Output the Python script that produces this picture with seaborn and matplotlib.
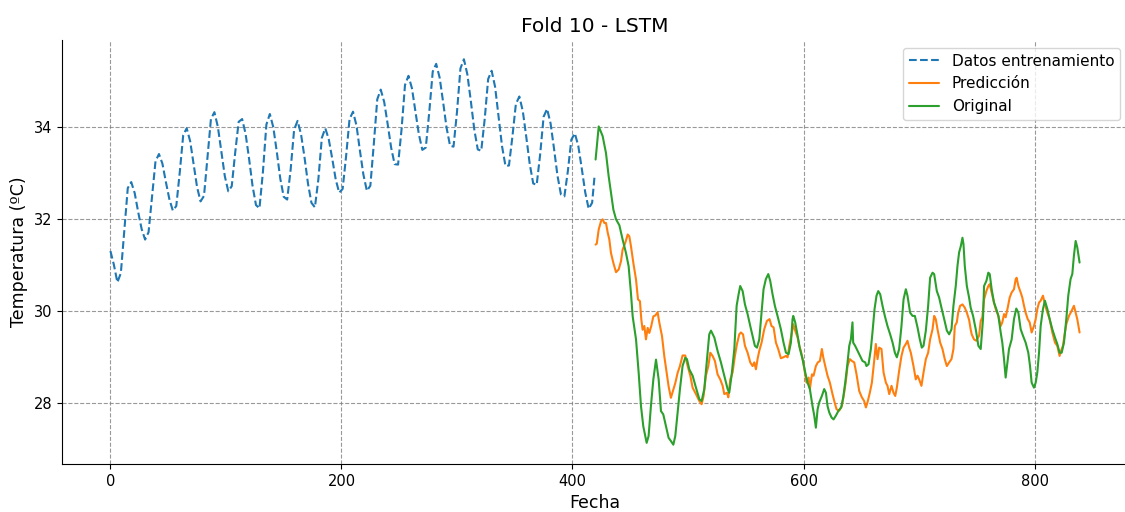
import pandas as pd
import matplotlib
matplotlib.use('Agg')
import matplotlib.pyplot as plt
import seaborn as sns

# Datos de entrenamiento (x cada 3 pasos)
train_x = list(range(0, 420, 3)) + [419]
train_y = [31.30, 31.00, 30.62, 30.82, 31.76, 32.67, 32.80, 32.56, 32.15, 31.78,
           31.55, 31.71, 32.48, 33.25, 33.41, 33.20, 32.80, 32.43, 32.18, 32.28,
           33.01, 33.82, 33.97, 33.69, 33.19, 32.69, 32.38, 32.50, 33.33, 34.17,
           34.32, 34.00, 33.46, 32.93, 32.60, 32.71, 33.44, 34.11, 34.17, 33.85,
           33.31, 32.72, 32.30, 32.23, 33.02, 34.05, 34.28, 33.99, 33.46, 32.88,
           32.48, 32.42, 33.07, 33.94, 34.13, 33.84, 33.34, 32.77, 32.35, 32.25,
           32.86, 33.76, 33.97, 33.73, 33.31, 32.86, 32.57, 32.65, 33.36, 34.17,
           34.33, 34.03, 33.48, 32.96, 32.61, 32.72, 33.63, 34.60, 34.81, 34.54,
           34.06, 33.55, 33.19, 33.18, 33.94, 34.91, 35.11, 34.84, 34.34, 33.84,
           33.50, 33.55, 34.32, 35.20, 35.37, 35.07, 34.54, 33.98, 33.59, 33.57,
           34.32, 35.27, 35.47, 35.14, 34.56, 33.94, 33.51, 33.48, 34.17, 35.04,
           35.22, 34.87, 34.23, 33.58, 33.15, 33.16, 33.79, 34.50, 34.66, 34.34,
           33.78, 33.19, 32.77, 32.74, 33.40, 34.22, 34.39, 34.08, 33.53, 32.94,
           32.53, 32.49, 33.04, 33.72, 33.86, 33.59, 33.10, 32.58, 32.22, 32.35,
           32.90]

# Serie original (test)
orig_x = [420, 422.7, 426.1, 429, 431.3, 433.3, 435.4, 437.7, 440.6, 443.4, 446.3, 448.6,
          450.6, 452.1, 455, 457.3, 459.3, 461.3, 464.2, 465.9, 467.9, 470, 472.3, 474.6,
          476.6, 478.6, 480.9, 483.2, 485.2, 487.3, 489, 491, 493, 495.3, 497.6, 499.1,
          501.1, 504, 506.9, 509.8, 511.8, 514.1, 516.4, 518.4, 519.9, 522.8, 525.6, 528.5,
          531.4, 534.3, 535.7, 537.7, 540.1, 542.1, 543.8, 545.2, 547.3, 549.3, 551.6, 553.9,
          555.9, 557.9, 559.7, 561.7, 563.7, 565.4, 567.4, 569.5, 571.2, 573.2, 575.2, 577.5,
          580.4, 582.7, 584.8, 587.1, 589.1, 590.5, 591.1, 592.8, 594.9, 596.9, 599.2, 601.5,
          603.5, 605.5, 607.8, 609.3, 610.7, 612.2, 613.6, 615.9, 617.9, 619.4, 620.8, 622.3,
          624.3, 626, 628, 630.3, 632.6, 634.4, 636.1, 637.8, 639.6, 641, 642.4, 643,
          644.7, 646.8, 648.8, 651.1, 653.4, 654.5, 656.3, 658.3, 659.7, 661.5, 663.2, 664.7,
          666.4, 668.4, 670.4, 672.7, 675, 677.1, 679.1, 680.8, 682.8, 684.8, 686.6, 688.6,
          690, 692.3, 694.4, 696.4, 698.7, 700.7, 702.4, 703.9, 705.9, 707.9, 709.6, 711.7,
          713.1, 715.4, 717.4, 719.4, 721.8, 724.1, 726.1, 728.1, 729.8, 731.8, 733.3, 734.7,
          736.2, 737.6, 738.5, 739.6, 741.4, 743.4, 744.7, 746.8, 749.1, 751.4, 753.4, 755.4,
          756.3, 758.3, 760, 761.2, 762.9, 764.9, 766.9, 768.7, 770.7, 772.1, 773.6, 775,
          776.5, 777.9, 780.2, 782.2, 784.2, 786, 788, 790, 792.3, 794.6, 796.1, 797.5,
          799.5, 801, 802.4, 803.9, 805.3, 807.3, 809, 811.1, 813.1, 815.4, 817.7, 819.7,
          821.7, 823.5, 825.5, 827.5, 829.2, 831.2, 832.7, 834.1, 835.6, 837, 839]
orig_y = [33.29, 34.01, 33.80, 33.43, 32.93, 32.57, 32.20, 31.99, 31.86, 31.55, 31.26, 30.97,
          30.39, 29.88, 29.38, 28.65, 27.93, 27.49, 27.13, 27.28, 27.93, 28.51, 28.94, 28.51,
          27.82, 27.75, 27.49, 27.24, 27.17, 27.09, 27.28, 27.78, 28.29, 28.80, 28.98, 28.95,
          28.73, 28.59, 28.33, 28.08, 28.04, 28.30, 28.95, 29.49, 29.57, 29.42, 29.13, 28.88,
          28.59, 28.30, 28.22, 28.59, 29.17, 30.11, 30.36, 30.54, 30.43, 30.14, 29.93, 29.67,
          29.46, 29.24, 29.20, 29.38, 29.96, 30.47, 30.69, 30.80, 30.65, 30.36, 30.11, 29.89,
          29.60, 29.31, 29.09, 29.06, 29.31, 29.82, 29.89, 29.75, 29.46, 29.17, 28.95, 28.66,
          28.44, 28.30, 27.93, 27.72, 27.46, 27.86, 28.01, 28.15, 28.30, 28.22, 27.93, 27.79,
          27.68, 27.64, 27.72, 27.83, 27.90, 28.12, 28.44, 28.80, 29.24, 29.38, 29.75, 29.31,
          29.24, 29.13, 29.02, 28.91, 28.88, 28.80, 28.84, 29.17, 29.53, 30.04, 30.33, 30.43,
          30.36, 30.11, 29.89, 29.67, 29.49, 29.31, 29.09, 28.99, 29.17, 29.67, 30.25, 30.47,
          30.33, 29.96, 29.89, 29.89, 29.64, 29.38, 29.20, 29.24, 29.57, 30.11, 30.72, 30.83,
          30.80, 30.43, 30.29, 30.07, 29.82, 29.57, 29.49, 29.60, 30.11, 30.54, 30.98, 31.27,
          31.41, 31.59, 31.45, 30.98, 30.54, 30.28, 30.07, 29.89, 29.60, 29.24, 29.17, 29.82,
          30.54, 30.65, 30.83, 30.80, 30.47, 30.18, 30.04, 29.89, 29.53, 29.31, 28.95, 28.55,
          28.88, 29.17, 29.38, 29.82, 30.05, 29.96, 29.60, 29.46, 29.31, 29.09, 28.80, 28.44,
          28.33, 28.44, 28.66, 29.09, 29.67, 30.04, 30.22, 30.04, 29.82, 29.60, 29.42, 29.28,
          29.09, 29.09, 29.31, 29.82, 30.33, 30.69, 30.80, 31.20, 31.52, 31.38, 31.05]

# Predicción LSTM
pred_x = [420, 421, 422.7, 424.7, 426.1, 427.6, 429, 430.5, 431.9, 433.3, 435.4, 437.7,
          440, 442, 443.4, 445.7, 447.8, 449.2, 450.6, 452.7, 455, 456.7, 458.4, 459.6,
          460.7, 462.2, 463.6, 465.1, 466.5, 468.2, 470, 471.7, 473.7, 475.2, 477.5, 479.5,
          481.5, 483.2, 485.2, 487.3, 489, 491, 493, 495.3, 497.6, 499.7, 502, 504,
          506.9, 509.8, 511.8, 513.5, 515.5, 517.6, 519.3, 521.3, 523.3, 525.6, 527.9, 530,
          531.4, 533.7, 534.9, 536.6, 538.6, 540.6, 542.4, 544.4, 545.8, 547.6, 549.3, 551.6,
          553.9, 555.9, 557.4, 558.8, 560.2, 561.7, 563.7, 566, 568.3, 570.6, 572.3, 574.1,
          576.1, 578.1, 580.4, 582.5, 584.8, 586.2, 587.7, 590, 591.1, 592.8, 594.9, 596.3,
          597.7, 599.8, 601.5, 602.6, 604.4, 605.5, 607.3, 608.7, 610.7, 612.4, 614.2, 615.9,
          617.1, 618.8, 620.8, 622.8, 625.1, 626.6, 628.6, 630.9, 633.2, 635.2, 636.7, 638.1,
          640.1, 641.9, 643.9, 645.9, 648.2, 650.5, 652.5, 654, 655.4, 657.4, 659.2, 661.2,
          662.6, 664.1, 665.5, 667.5, 669.3, 671.3, 672.7, 674.2, 676.2, 677.9, 679.4, 680.8,
          682.8, 684.8, 686.6, 688.6, 690, 691.5, 692.9, 695.2, 697.2, 698.7, 700.1, 702.1,
          703.9, 705.9, 707.9, 709.6, 711.7, 713.1, 714.5, 716, 718.3, 720.3, 722.3, 724.1,
          726.1, 728.1, 729.8, 731, 732.7, 733.9, 735.6, 737.6, 739.6, 741.4, 743.4, 744.7,
          745.6, 747.6, 749.6, 752, 753.4, 754.8, 756.3, 758.3, 760, 761.2, 762.9, 764.9,
          766.4, 768.7, 770.7, 772.1, 773.6, 775, 776.8, 778.5, 780.2, 782.2, 783.7, 784.5,
          786, 788, 789.4, 790.9, 792.3, 794.1, 795.8, 797.5, 799.5, 801, 802.4, 803.9,
          805.3, 807.3, 809, 811.1, 813.1, 815.4, 817.7, 819.7, 821.7, 822.9, 824.6, 826.3,
          827.5, 829.8, 832.1, 834.1, 835.6, 837, 839]
pred_y = [31.44, 31.46, 31.77, 31.95, 31.99, 31.91, 31.91, 31.70, 31.55, 31.26, 31.04, 30.84,
          30.90, 31.08, 31.33, 31.48, 31.66, 31.62, 31.41, 31.04, 30.68, 30.25, 30.21, 29.81,
          29.59, 29.67, 29.38, 29.63, 29.52, 29.67, 29.88, 29.90, 29.97, 29.74, 29.45, 29.01,
          28.65, 28.36, 28.11, 28.29, 28.43, 28.65, 28.80, 29.03, 29.03, 28.80, 28.59, 28.33,
          28.19, 28.04, 27.97, 28.15, 28.59, 28.80, 29.09, 29.02, 28.91, 28.62, 28.51, 28.37,
          28.19, 28.22, 28.12, 28.51, 28.66, 29.02, 29.28, 29.49, 29.53, 29.49, 29.24, 29.09,
          28.88, 28.80, 28.88, 28.73, 28.95, 29.13, 29.31, 29.60, 29.78, 29.82, 29.67, 29.64,
          29.31, 29.17, 28.97, 28.99, 29.02, 28.99, 29.24, 29.53, 29.71, 29.57, 29.42, 29.24,
          29.13, 28.88, 28.62, 28.44, 28.55, 28.30, 28.62, 28.59, 28.80, 28.88, 28.91, 29.17,
          28.99, 28.80, 28.59, 28.44, 28.19, 28.04, 27.86, 27.83, 27.93, 28.22, 28.48, 28.80,
          28.95, 28.91, 28.88, 28.62, 28.26, 28.12, 28.04, 27.90, 28.01, 28.22, 28.44, 28.92,
          29.28, 28.95, 29.20, 29.17, 28.66, 28.44, 28.37, 28.19, 28.37, 28.22, 28.15, 28.33,
          28.70, 29.02, 29.20, 29.28, 29.35, 29.20, 29.09, 28.80, 28.51, 28.59, 28.51, 28.37,
          28.66, 28.95, 29.09, 29.38, 29.60, 29.89, 29.82, 29.60, 29.31, 29.17, 28.95, 28.80,
          28.88, 28.95, 29.17, 29.67, 29.75, 29.96, 30.11, 30.14, 30.07, 29.96, 29.80, 29.60,
          29.49, 29.38, 29.35, 29.46, 29.78, 29.86, 30.25, 30.43, 30.54, 30.58, 30.40, 30.18,
          30.04, 29.89, 29.67, 29.75, 29.93, 29.86, 30.07, 30.29, 30.40, 30.47, 30.69, 30.72,
          30.54, 30.40, 30.29, 30.11, 29.96, 29.82, 29.75, 29.53, 29.67, 29.82, 30.04, 30.18,
          30.22, 30.33, 30.14, 29.96, 29.82, 29.53, 29.31, 29.24, 29.02, 29.13, 29.24, 29.53,
          29.71, 29.89, 30.00, 30.11, 29.96, 29.82, 29.53]

# Estilo: texto y ejes en negro
sns.set_style('ticks', {'axes.edgecolor': 'black', 'text.color': 'black',
                        'axes.labelcolor': 'black', 'xtick.color': 'black',
                        'ytick.color': 'black'})

fig = plt.figure(figsize=(11.25, 5.12), dpi=100)
ax = fig.add_axes([0.0551, 0.0938, 0.9476, 0.8281])

sns.lineplot(x=train_x, y=train_y, ax=ax, color='#1f77b4', linestyle='--',
             linewidth=1.5, label='Datos entrenamiento', sort=False, estimator=None)
sns.lineplot(x=pred_x, y=pred_y, ax=ax, color='#ff7f0e',
             linewidth=1.5, label='Predicción', sort=False, estimator=None)
sns.lineplot(x=orig_x, y=orig_y, ax=ax, color='#2ca02c',
             linewidth=1.5, label='Original', sort=False, estimator=None)

ax.set_title('Fold 10 - LSTM', fontsize=14.5)
ax.set_xlabel('Fecha', fontsize=12.5)
ax.set_ylabel('Temperatura (ºC)', fontsize=12.5)
ax.tick_params(labelsize=10.5)
ax.grid(True, linestyle='--', color='gray', linewidth=0.8, alpha=0.8)
ax.legend(loc='upper right', fontsize=11)
sns.despine(ax=ax)

plt.savefig('out.png', dpi=100)
plt.close()
